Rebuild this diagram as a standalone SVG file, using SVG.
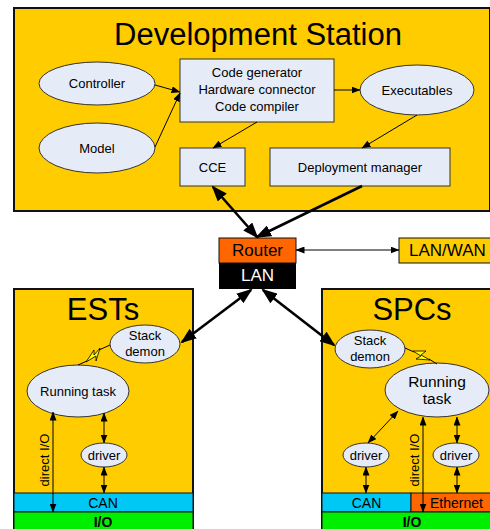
<svg xmlns="http://www.w3.org/2000/svg" width="490" height="529" viewBox="0 0 490 529">
  <defs>
    <style>
      text { font-family: "Liberation Sans", Arial, sans-serif; fill: #000; }
      .panel { fill: #ffcc00; stroke: #111; stroke-width: 2; }
      .node { fill: #e6ecf7; stroke: #333; stroke-width: 1; }
      .t13 { font-size: 13px; text-anchor: middle; }
      .title { font-size: 31px; text-anchor: middle; }
      .thin { stroke: #000; stroke-width: 1; fill: none; }
      .thick { stroke: #000; stroke-width: 2.6; fill: none; }
      .bolt { fill: #ffff00; stroke: #000; stroke-width: 0.8; stroke-linejoin: miter; }
    </style>
    <marker id="a" viewBox="0 0 9 7" refX="8.5" refY="3.5" markerWidth="9" markerHeight="7" markerUnits="userSpaceOnUse" orient="auto-start-reverse">
      <path d="M0,0 L9,3.5 L0,7 z" fill="#000"/>
    </marker>
    <marker id="A" viewBox="0 0 16 12" refX="14" refY="6" markerWidth="16" markerHeight="12" markerUnits="userSpaceOnUse" orient="auto-start-reverse">
      <path d="M0,0 L16,6 L0,12 z" fill="#000"/>
    </marker>
  </defs>

  <rect width="490" height="529" fill="#fff"/>

  <!-- Development Station -->
  <g id="dev-station">
    <rect class="panel" x="14" y="8" width="476" height="203"/>
    <text class="title" x="258" y="45">Development Station</text>
  </g>
  <g id="controller">
    <ellipse class="node" cx="97" cy="83.5" rx="58" ry="21.5"/>
    <text class="t13" x="97" y="88">Controller</text>
  </g>
  <g id="model">
    <ellipse class="node" cx="97" cy="148" rx="58" ry="25"/>
    <text class="t13" x="97" y="152.5">Model</text>
  </g>
  <g id="codegen">
    <rect class="node" x="180" y="59" width="154" height="63"/>
    <text class="t13" x="257" y="77">Code generator</text>
    <text class="t13" x="257" y="94">Hardware connector</text>
    <text class="t13" x="257" y="110.5">Code compiler</text>
  </g>
  <g id="executables">
    <ellipse class="node" cx="417" cy="90" rx="57" ry="25"/>
    <text class="t13" x="417" y="94.5">Executables</text>
  </g>
  <g id="cce">
    <rect class="node" x="180" y="148" width="65" height="38"/>
    <text class="t13" x="212.5" y="171.5">CCE</text>
  </g>
  <g id="deployment">
    <rect class="node" x="270" y="148" width="180" height="38"/>
    <text class="t13" x="360" y="171.5">Deployment manager</text>
  </g>

  <!-- Router / LAN -->
  <g id="router">
    <rect x="219" y="238" width="77" height="25" fill="#ff6600" stroke="#111" stroke-width="1"/>
    <text x="257.5" y="256" font-size="17" text-anchor="middle">Router</text>
    <rect x="219" y="263" width="77" height="26" fill="#000"/>
    <text x="257.5" y="281" font-size="17" text-anchor="middle" style="fill:#fff">LAN</text>
  </g>
  <g id="lanwan">
    <rect x="399" y="238" width="95" height="25" fill="#ffcc00" stroke="#111" stroke-width="1"/>
    <text x="409" y="256" font-size="17">LAN/WAN</text>
  </g>

  <!-- ESTs -->
  <g id="ests">
    <rect class="panel" x="14" y="289" width="179" height="245"/>
    <text class="title" x="103" y="320">ESTs</text>
    <rect x="14" y="493" width="179" height="19" fill="#00c8f5" stroke="#111" stroke-width="1"/>
    <text x="103" y="507.5" font-size="14" text-anchor="middle">CAN</text>
    <rect x="14" y="512" width="179" height="20" fill="#00ee00" stroke="#111" stroke-width="1"/>
    <text x="103" y="527" font-size="14" font-weight="bold" text-anchor="middle">I/O</text>
  </g>
  <g id="ests-demon">
    <ellipse class="node" cx="145" cy="344" rx="35" ry="19"/>
    <text class="t13" x="145" y="339.5">Stack</text>
    <text class="t13" x="145" y="356">demon</text>
  </g>
  <g id="ests-task">
    <ellipse class="node" cx="78" cy="391" rx="51" ry="26"/>
    <text class="t13" x="78" y="395.5">Running task</text>
  </g>
  <g id="ests-driver">
    <ellipse class="node" cx="104" cy="455" rx="23" ry="12"/>
    <text class="t13" x="104" y="459.5">driver</text>
  </g>
  <text x="0" y="0" font-size="13" text-anchor="middle" transform="translate(49,460) rotate(-90)">direct I/O</text>

  <!-- SPCs -->
  <g id="spcs">
    <rect class="panel" x="322" y="289" width="172" height="245"/>
    <text class="title" x="412" y="320">SPCs</text>
    <rect x="322" y="493" width="89" height="19" fill="#00c8f5" stroke="#111" stroke-width="1"/>
    <text x="366.5" y="507.5" font-size="14" text-anchor="middle">CAN</text>
    <rect x="411" y="493" width="83" height="19" fill="#ff6600" stroke="#111" stroke-width="1"/>
    <text x="430" y="507.5" font-size="14">Ethernet</text>
    <rect x="322" y="512" width="172" height="20" fill="#00ee00" stroke="#111" stroke-width="1"/>
    <text x="412" y="527" font-size="14" font-weight="bold" text-anchor="middle">I/O</text>
  </g>
  <g id="spcs-demon">
    <ellipse class="node" cx="370" cy="349" rx="35" ry="19"/>
    <text class="t13" x="370" y="344.5">Stack</text>
    <text class="t13" x="370" y="361">demon</text>
  </g>
  <g id="spcs-task">
    <ellipse class="node" cx="437" cy="390" rx="52" ry="27"/>
    <text x="437" y="387" font-size="15.5" text-anchor="middle">Running</text>
    <text x="437" y="404" font-size="15.5" text-anchor="middle">task</text>
  </g>
  <g id="spcs-driver-can">
    <ellipse class="node" cx="366" cy="455" rx="23" ry="12"/>
    <text class="t13" x="366" y="459.5">driver</text>
  </g>
  <g id="spcs-driver-eth">
    <ellipse class="node" cx="456" cy="455" rx="23" ry="12"/>
    <text class="t13" x="456" y="459.5">driver</text>
  </g>
  <text x="0" y="0" font-size="13" text-anchor="middle" transform="translate(419,460) rotate(-90)">direct I/O</text>

  <!-- Connectors -->
  <g id="connectors">
    <line class="thin" x1="155" y1="85" x2="180" y2="92" marker-end="url(#a)"/>
    <line class="thin" x1="155" y1="147" x2="180" y2="93" marker-end="url(#a)"/>
    <line class="thin" x1="334" y1="90" x2="360" y2="90" marker-end="url(#a)"/>
    <line class="thin" x1="257" y1="122" x2="213" y2="148" marker-end="url(#a)"/>
    <line class="thin" x1="417" y1="115" x2="362" y2="148" marker-end="url(#a)"/>

    <line class="thick" x1="213" y1="187" x2="257" y2="237" marker-start="url(#A)" marker-end="url(#A)"/>
    <line class="thick" x1="362" y1="186" x2="257" y2="237" marker-end="url(#A)"/>
    <line class="thin" x1="296" y1="250" x2="399" y2="250" marker-start="url(#a)" marker-end="url(#a)"/>
    <line class="thick" x1="251" y1="290" x2="182" y2="342" marker-start="url(#A)" marker-end="url(#A)"/>
    <line class="thick" x1="263" y1="290" x2="334" y2="345" marker-start="url(#A)" marker-end="url(#A)"/>

    <!-- ESTs internals -->
    <line class="thin" x1="104" y1="413" x2="104" y2="443" marker-start="url(#a)" marker-end="url(#a)"/>
    <line class="thin" x1="104" y1="467" x2="104" y2="493" marker-start="url(#a)" marker-end="url(#a)"/>
    <line class="thin" x1="53" y1="412" x2="53" y2="512" marker-start="url(#a)" marker-end="url(#a)"/>
    <polyline class="thin" points="78,365 87,361"/>
    <polygon class="bolt" points="86,362 94,350 94,355 100,348 96,361 96,356"/>
    <polyline class="thin" points="99,350 110,345"/>

    <!-- SPCs internals -->
    <line class="thin" x1="398" y1="411" x2="368" y2="443" marker-start="url(#a)" marker-end="url(#a)"/>
    <line class="thin" x1="457" y1="417" x2="457" y2="443" marker-start="url(#a)" marker-end="url(#a)"/>
    <line class="thin" x1="457" y1="467" x2="457" y2="493" marker-start="url(#a)" marker-end="url(#a)"/>
    <line class="thin" x1="366" y1="467" x2="366" y2="493" marker-start="url(#a)" marker-end="url(#a)"/>
    <line class="thin" x1="423" y1="417" x2="423" y2="512" marker-start="url(#a)" marker-end="url(#a)"/>
    <polyline class="thin" points="405,348 414,352"/>
    <polygon class="bolt" points="413,351 426,351 421,355 430,360 416,359 421,356"/>
    <polyline class="thin" points="429,359 437,364"/>
  </g>
</svg>
